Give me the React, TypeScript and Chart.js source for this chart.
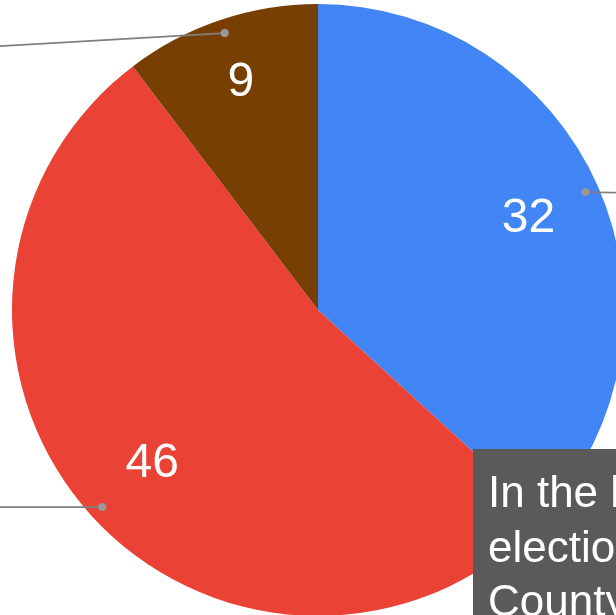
import React, { useEffect, useRef } from "react";
import { Chart, registerables } from "chart.js";

Chart.register(...registerables);

const categories = ["Democratic", "Republican", "Other"];
const seriesValues = [32, 46, 9];
const sliceColors = ["#4285F4", "#EA4335", "#783F04"];
const noteLines = ["In the last", "election in the", "Countywide race"];

const labelRadius = [0.752, 0.734, 0.79];
const leaderEnd = [
  { dx: 60, dy: 1 },
  { dx: -120, dy: 0 },
  { dx: -240, dy: 14 },
];

const overlayPlugin = {
  id: "overlay",
  afterDatasetsDraw(chart: any) {
    const ctx = chart.ctx;
    const meta = chart.getDatasetMeta(0);
    ctx.save();
    meta.data.forEach((arc: any, i: number) => {
      const { x, y, startAngle, endAngle, outerRadius } = arc.getProps(
        ["x", "y", "startAngle", "endAngle", "outerRadius"],
        true
      );
      const mid = (startAngle + endAngle) / 2;
      const dr = outerRadius * 0.955;
      const px = x + Math.cos(mid) * dr;
      const py = y + Math.sin(mid) * dr;
      ctx.strokeStyle = "#7f7f7f";
      ctx.lineWidth = 1.7;
      ctx.beginPath();
      ctx.moveTo(px, py);
      ctx.lineTo(px + leaderEnd[i].dx, py + leaderEnd[i].dy);
      ctx.stroke();
      ctx.fillStyle = "#999999";
      ctx.beginPath();
      ctx.arc(px, py, 4, 0, Math.PI * 2);
      ctx.fill();
      const lr = outerRadius * labelRadius[i];
      const lx = x + Math.cos(mid) * lr;
      const ly = y + Math.sin(mid) * lr;
      ctx.fillStyle = "#ffffff";
      ctx.font = '48px "Liberation Sans", Arial, sans-serif';
      ctx.textAlign = "center";
      ctx.textBaseline = "middle";
      ctx.fillText(String(seriesValues[i]), lx, ly + 2);
    });
    ctx.fillStyle = "#5a5a5a";
    ctx.fillRect(473, 449, 400, 300);
    ctx.fillStyle = "#ffffff";
    ctx.font = '44px "Liberation Sans", Arial, sans-serif';
    ctx.textAlign = "left";
    ctx.textBaseline = "alphabetic";
    noteLines.forEach((t, i) => {
      ctx.fillText(t, 488, 507 + i * 54.5);
    });
    ctx.restore();
  },
};

export default function App() {
  const ref = useRef<HTMLCanvasElement | null>(null);
  useEffect(() => {
    if (!ref.current) return;
    const chart = new Chart(ref.current, {
      type: "pie",
      data: {
        labels: categories,
        datasets: [
          {
            data: seriesValues,
            backgroundColor: sliceColors,
            borderWidth: 0,
          },
        ],
      },
      options: {
        responsive: false,
        animation: false,
        devicePixelRatio: 1,
        layout: { padding: { left: 12, top: 4, right: 16, bottom: 14 } },
        plugins: {
          legend: { display: false },
          tooltip: { enabled: false },
        },
      },
      plugins: [overlayPlugin],
    });
    return () => chart.destroy();
  }, []);
  return (
    <div
      style={{
        position: "fixed",
        left: 0,
        top: 0,
        width: 616,
        height: 615,
        overflow: "hidden",
        background: "#ffffff",
      }}
    >
      <canvas
        ref={ref}
        width={640}
        height={630}
        style={{ position: "absolute", left: 0, top: 0, width: 640, height: 630 }}
      />
    </div>
  );
}
